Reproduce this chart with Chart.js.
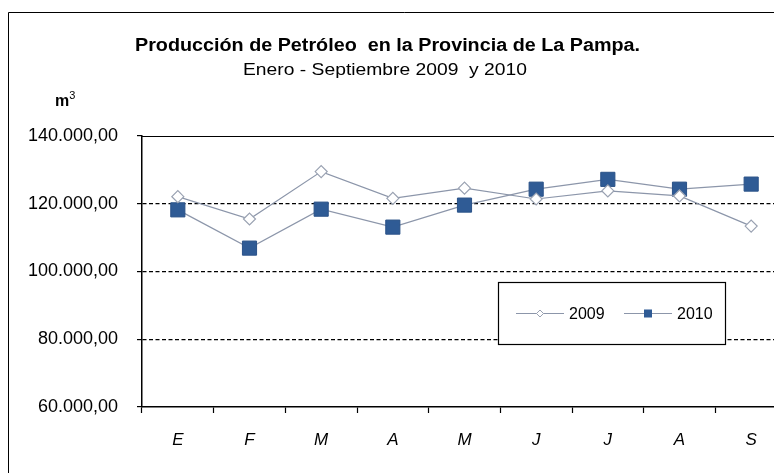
<!DOCTYPE html>
<html>
<head>
<meta charset="utf-8">
<script src="https://cdn.jsdelivr.net/npm/chart.js@4.4.0/dist/chart.umd.min.js"></script>
<style>
  html, body { margin: 0; padding: 0; background: #fff; overflow: hidden; }
  #wrap { position: relative; width: 800px; height: 473px; }
</style>
</head>
<body>
<div id="wrap"><canvas id="c" width="800" height="473"></canvas></div>
<script>
const months = ['E', 'F', 'M', 'A', 'M', 'J', 'J', 'A', 'S'];
const prod2009 = [122100, 115500, 129500, 121600, 124600, 121400, 123800, 122300, 113400];
const prod2010 = [118200, 106900, 118400, 113100, 119600, 124300, 127200, 124300, 125800];
const yTicks = [60000, 80000, 100000, 120000, 140000];
const titleText = 'Producción de Petróleo  en la Provincia de La Pampa.';
const subtitleText = 'Enero - Septiembre 2009  y 2010';
const unitText = 'm';

const FONT = '"Liberation Sans", Arial, sans-serif';

function fmt(v) {
  const s = Math.round(v).toString().replace(/\B(?=(\d{3})+(?!\d))/g, '.');
  return s + ',00';
}

function fitText(ctx, text, left, cy, font, targetW) {
  ctx.save();
  ctx.font = font;
  ctx.textAlign = 'left';
  ctx.textBaseline = 'middle';
  const w = ctx.measureText(text).width;
  const sx = targetW / w;
  ctx.translate(left, cy);
  ctx.scale(sx, 1);
  ctx.fillText(text, 0, 0);
  ctx.restore();
}

const decor = {
  id: 'decor',
  beforeDraw(chart) {
    const ctx = chart.ctx;
    ctx.save();
    ctx.fillStyle = '#fff';
    ctx.fillRect(0, 0, chart.width, chart.height);
    ctx.strokeStyle = '#000';
    ctx.lineWidth = 1;
    ctx.beginPath();
    ctx.moveTo(8.5, chart.height + 5);
    ctx.lineTo(8.5, 12.5);
    ctx.lineTo(chart.width + 5, 12.5);
    ctx.stroke();
    ctx.restore();
  },
  afterDraw(chart) {
    const ctx = chart.ctx;
    const a = chart.chartArea;
    ctx.save();
    // plot frame top
    ctx.strokeStyle = '#000';
    ctx.lineWidth = 1.2;
    ctx.setLineDash([]);
    ctx.beginPath();
    ctx.moveTo(a.left, Math.round(a.top) + 0.5);
    ctx.lineTo(a.right, Math.round(a.top) + 0.5);
    ctx.stroke();
    // titles
    ctx.fillStyle = '#000';
    fitText(ctx, titleText, 135, 46, 'bold 18px ' + FONT, 505);
    fitText(ctx, subtitleText, 243, 70, '17px ' + FONT, 284);
    // unit
    ctx.textAlign = 'left';
    ctx.textBaseline = 'middle';
    ctx.font = 'bold 16px ' + FONT;
    ctx.fillText(unitText, 55, 102);
    const w = ctx.measureText(unitText).width;
    ctx.font = '11px ' + FONT;
    ctx.fillText('3', 55 + w, 96);
    // legend
    const lx = 498.5, ly = 282.5, lw = 227, lh = 62;
    ctx.fillStyle = '#fff';
    ctx.fillRect(lx, ly, lw, lh);
    ctx.strokeStyle = '#000';
    ctx.lineWidth = 1.2;
    ctx.strokeRect(lx, ly, lw, lh);
    const items = chart.data.datasets;
    const starts = [516, 624];
    const cy = ly + lh / 2;
    items.forEach((ds, i) => {
      const x0 = starts[i];
      ctx.strokeStyle = ds.borderColor;
      ctx.lineWidth = 1;
      ctx.beginPath();
      ctx.moveTo(x0, cy);
      ctx.lineTo(x0 + 48, cy);
      ctx.stroke();
      const mx = x0 + 24;
      if (ds.pointStyle === 'rectRot') {
        ctx.fillStyle = ds.pointBackgroundColor;
        ctx.strokeStyle = ds.pointBorderColor;
        ctx.beginPath();
        ctx.moveTo(mx, cy - 3.5); ctx.lineTo(mx + 3.5, cy); ctx.lineTo(mx, cy + 3.5); ctx.lineTo(mx - 3.5, cy); ctx.closePath();
        ctx.fill(); ctx.stroke();
      } else {
        ctx.fillStyle = ds.pointBackgroundColor;
        ctx.fillRect(mx - 4, cy - 4, 8, 8);
      }
      ctx.fillStyle = '#000';
      ctx.font = '16px ' + FONT;
      ctx.textAlign = 'left';
      ctx.fillText(ds.label, x0 + 53, cy + 1);
    });
    ctx.restore();
  }
};

new Chart(document.getElementById('c'), {
  type: 'line',
  data: {
    labels: months,
    datasets: [
      {
        label: '2009',
        data: prod2009,
        borderColor: '#8c96aa',
        borderWidth: 1.2,
        pointStyle: 'rectRot',
        pointRadius: 6,
        pointBackgroundColor: '#ffffff',
        pointBorderColor: '#9aa2b2',
        pointBorderWidth: 1.2,
        tension: 0
      },
      {
        label: '2010',
        data: prod2010,
        borderColor: '#8c96aa',
        borderWidth: 1.2,
        pointStyle: 'rect',
        pointRadius: 10,
        pointBackgroundColor: '#2f5b95',
        pointBorderColor: '#2a5288',
        pointBorderWidth: 1,
        tension: 0
      }
    ]
  },
  options: {
    responsive: false,
    animation: false,
    events: [],
    layout: { padding: { left: 0, right: 13, top: 136, bottom: 0 } },
    plugins: { legend: { display: false }, title: { display: false }, tooltip: { enabled: false } },
    scales: {
      x: {
        offset: true,
        grid: { display: true, offset: true, drawOnChartArea: false, drawTicks: true, tickLength: 6, tickColor: '#000', tickWidth: 1.2 },
        border: { display: true, color: '#000', width: 1.5 },
        ticks: { color: '#000', font: { family: FONT, size: 17, style: 'italic' }, padding: 17, maxRotation: 0 },
        afterFit(s) { s.height = 66; }
      },
      y: {
        min: 60000,
        max: 140000,
        afterBuildTicks(s) { s.ticks = yTicks.map(v => ({ value: v })); },
        grid: {
          color: ctx => (ctx.tick && (ctx.tick.value === 80000 || ctx.tick.value === 100000 || ctx.tick.value === 120000)) ? '#000' : 'rgba(0,0,0,0)',
          lineWidth: 1.2,
          tickColor: '#000',
          tickLength: 5,
          tickWidth: 1.2,
          tickBorderDash: []
        },
        border: { display: true, color: '#000', width: 1.5, dash: [4, 2.5] },
        ticks: { color: '#000', font: { family: FONT, size: 18 }, padding: 19, callback: v => fmt(v) },
        afterFit(s) { s.width = 142; }
      }
    }
  },
  plugins: [decor]
});
</script>
</body>
</html>
